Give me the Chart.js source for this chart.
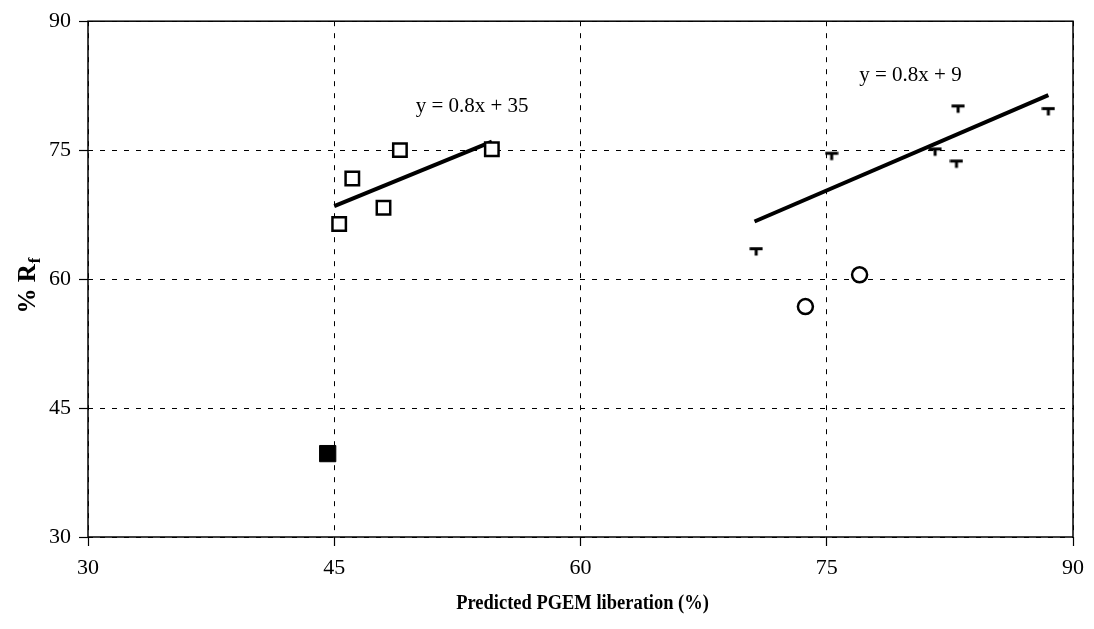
<!DOCTYPE html>
<html>
<head>
<meta charset="utf-8">
<script src="https://cdn.jsdelivr.net/npm/chart.js@4/dist/chart.umd.min.js"></script>
<style>
html,body{margin:0;padding:0;background:#fff;}
#wrap{width:1094px;height:629px;}
</style>
</head>
<body>
<div id="wrap"><canvas id="c" width="1094" height="629"></canvas></div>
<script>
// ---- data ----
const xTicks = [30, 45, 60, 75, 90];
const yTicks = [30, 45, 60, 75, 90];

const openSquareX = [45.3, 46.1, 48.0, 49.0, 54.6];
const openSquareY = [66.4, 71.7, 68.3, 75.0, 75.1];

const filledSquareX = [44.6];
const filledSquareY = [39.7];

const circleX = [73.7, 77.0];
const circleY = [56.8, 60.5];

const teeX = [70.7, 75.3, 81.6, 82.9, 83.0, 88.5];
const teeY = [63.5, 74.6, 75.1, 73.7, 80.1, 79.8];

const trend1X = [45.0, 54.6];
const trend1Y = [68.5, 76.0];
const trend2X = [70.6, 88.5];
const trend2Y = [66.7, 81.4];

const trendLabels = ["y = 0.8x + 35", "y = 0.8x + 9"];
const xTitle = "Predicted PGEM liberation (%)";
const yTitleMain = "% R";
const yTitleSub = "f";

// ---- helpers ----
const pts = (xs, ys) => xs.map((x, i) => ({ x: x, y: ys[i] }));

// T-shaped marker
const tee = document.createElement('canvas');
tee.width = 14; tee.height = 18;
(function () {
  const g = tee.getContext('2d');
  g.fillStyle = '#000';
  g.fillRect(0.5, 7.2, 13, 3);       // bar (centre row)
  g.fillRect(5.5, 8, 3, 7.5);        // stem below
})();

const SERIF = '"Liberation Serif", "DejaVu Serif", serif';

const overlay = {
  id: 'overlay',
  afterDraw(chart) {
    const ctx = chart.ctx;
    const a = chart.chartArea;
    const xs = chart.scales.x, ys = chart.scales.y;
    ctx.save();
    // plot frame
    ctx.strokeStyle = '#000';
    ctx.lineWidth = 1.5;
    ctx.setLineDash([]);
    ctx.strokeRect(a.left, a.top, a.right - a.left, a.bottom - a.top);

    // trendline equations
    ctx.fillStyle = '#000';
    ctx.font = '21px ' + SERIF;
    ctx.textAlign = 'center';
    ctx.textBaseline = 'middle';
    ctx.fillText(trendLabels[0], xs.getPixelForValue(53.4), ys.getPixelForValue(80.1));
    ctx.fillText(trendLabels[1], xs.getPixelForValue(80.1), ys.getPixelForValue(83.7));

    // x title
    ctx.save();
    ctx.translate((a.left + a.right) / 2 + 2, 603);
    ctx.scale(0.84, 1);
    ctx.font = 'bold 22px ' + SERIF;
    ctx.fillText(xTitle, 0, 0);
    ctx.restore();

    // y title with subscript
    ctx.save();
    ctx.translate(27, 286);
    ctx.rotate(-Math.PI / 2);
    ctx.font = 'bold 25px ' + SERIF;
    const w1 = ctx.measureText(yTitleMain).width;
    ctx.font = 'bold 17px ' + SERIF;
    const w2 = ctx.measureText(yTitleSub).width;
    const start = -(w1 + w2) / 2;
    ctx.textAlign = 'left';
    ctx.textBaseline = 'alphabetic';
    ctx.font = 'bold 25px ' + SERIF;
    ctx.fillText(yTitleMain, start, 8);
    ctx.font = 'bold 17px ' + SERIF;
    ctx.fillText(yTitleSub, start + w1 + 1, 13);
    ctx.restore();

    ctx.restore();
  }
};

const tickCfg = (arr) => (scale) => { scale.ticks = arr.map(v => ({ value: v })); };

new Chart(document.getElementById('c'), {
  type: 'scatter',
  data: {
    datasets: [
      { data: pts(trend1X, trend1Y), showLine: true, borderColor: '#000', borderWidth: 4,
        pointRadius: 0, fill: false, order: 2 },
      { data: pts(trend2X, trend2Y), showLine: true, borderColor: '#000', borderWidth: 4,
        pointRadius: 0, fill: false, order: 2 },
      { data: pts(openSquareX, openSquareY), pointStyle: 'rect', pointRadius: 9.5,
        backgroundColor: '#fff', borderColor: '#000', borderWidth: 2.5, order: 1 },
      { data: pts(filledSquareX, filledSquareY), pointStyle: 'rect', pointRadius: 11.5,
        backgroundColor: '#000', borderColor: '#000', borderWidth: 1, order: 1 },
      { data: pts(circleX, circleY), pointStyle: 'circle', pointRadius: 7.5,
        backgroundColor: '#fff', borderColor: '#000', borderWidth: 2.5, order: 1 },
      { data: pts(teeX, teeY), pointStyle: tee, pointRadius: 7, order: 1 }
    ]
  },
  options: {
    responsive: false,
    animation: false,
    events: [],
    devicePixelRatio: 1,
    layout: { padding: { left: 0, top: 14, right: 21, bottom: 0 } },
    plugins: { legend: { display: false }, tooltip: { enabled: false } },
    scales: {
      x: {
        type: 'linear', min: 30, max: 90,
        afterBuildTicks: tickCfg(xTicks),
        afterFit(s) { s.height = 92; },
        border: { display: false, dash: [5, 7] },
        grid: { color: '#000', lineWidth: 1, tickLength: 9, tickColor: '#000', tickWidth: 1.2 },
        ticks: { color: '#000', padding: 9, maxRotation: 0, font: { family: SERIF, size: 22 } }
      },
      y: {
        type: 'linear', min: 30, max: 90,
        afterBuildTicks: tickCfg(yTicks),
        afterFit(s) { s.width = 88; },
        border: { display: false, dash: [5, 7] },
        grid: { color: '#000', lineWidth: 1, tickLength: 9, tickColor: '#000', tickWidth: 1.2 },
        ticks: { color: '#000', padding: 8, font: { family: SERIF, size: 22 } }
      }
    }
  },
  plugins: [overlay]
});
</script>
</body>
</html>
